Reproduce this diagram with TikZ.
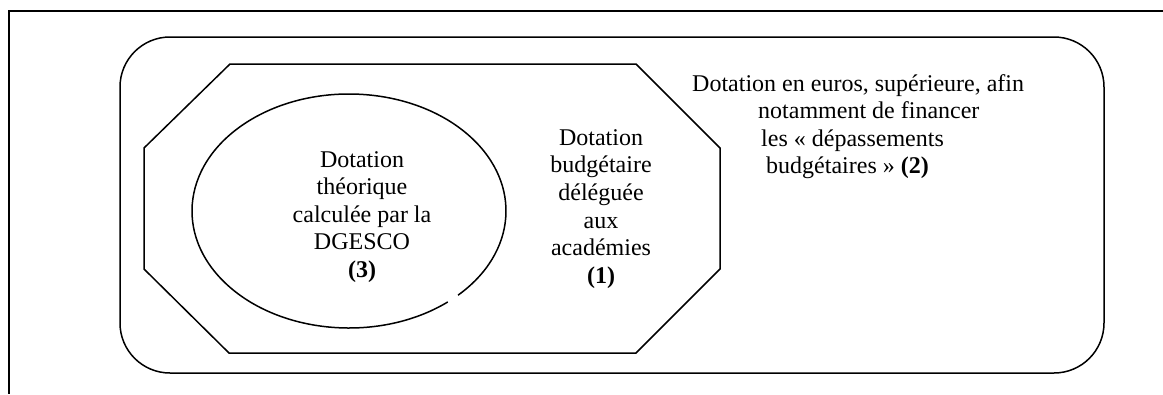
\documentclass[tikz,border=0pt]{standalone}
\usepackage{fontspec}
\setmainfont{Liberation Serif}
\usetikzlibrary{positioning}

\begin{document}
\begin{tikzpicture}[%
		x=1pt, y=-1pt,
		frame/.style={
			line width=2pt,
			black
		},
		envelope/.style={
			line width=1.5pt,
			rounded corners=50pt,
			black
		},
		octagon/.style={
			line width=1.5pt,
			black
		},
		theory/.style={
			line width=1.5pt,
			black
		},
		dotation/.style={
			font=\fontsize{24}{27.6}\selectfont,
			align=center,
			inner sep=0pt
		},
		dotleft/.style={
			font=\fontsize{24}{27.6}\selectfont,
			align=left,
			inner sep=0pt,
			anchor=north west
		}]

		\useasboundingbox (0,0) rectangle (1163,394);

		% FRAME

		\draw[frame] (1163,11) -- (9,11) -- (9,394);

		% DOTATIONS

		\draw[envelope] (120,37) rectangle (1104,373);
		\draw[octagon] (230,64) -- (636,64) -- (720,148) -- (720,269)
			-- (636,353) -- (229,353) -- (144,269) -- (144,148) -- cycle;
		\coordinate (centre3) at (349,211);
		\draw[theory] (centre3) ++(51:157 and 117)
			arc[start angle=51, end angle=406, x radius=157, y radius=117];

		% LABELS

		\node (dot3) [dotation] at (362,217) {Dotation\\théorique\\calculée par la\\DGESCO\\\textbf{(3)}};
		\node (dot1) [dotation] at (601,209) {Dotation\\budgétaire\\déléguée\\aux\\académies\\\textbf{(1)}};
		\node (dot2) [dotleft] at (692,74) {Dotation en euros, supérieure, afin\\
			\hspace*{66pt}notamment de financer\\
			\hspace*{69pt}les « dépassements\\
			\hspace*{74pt}budgétaires » \textbf{(2)}};
\end{tikzpicture}
\end{document}
